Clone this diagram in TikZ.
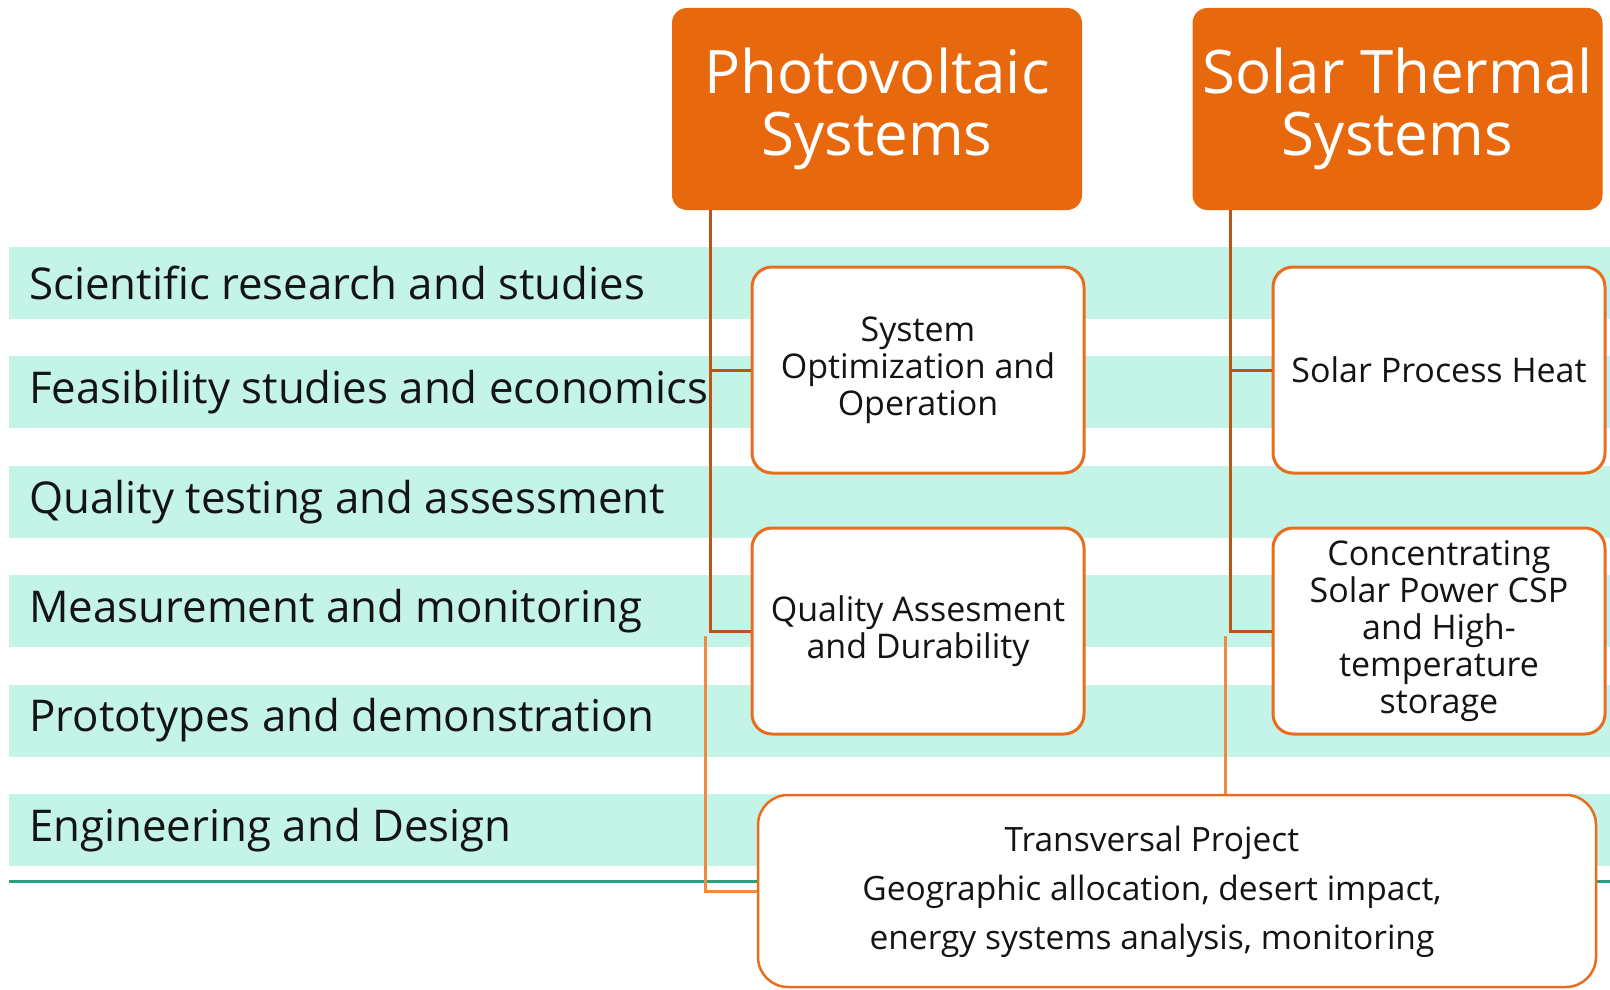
\documentclass[tikz,border=0pt]{standalone}
\usepackage{fontspec}
\setmainfont{Open Sans}
\definecolor{hdr}{RGB}{232,104,14}
\definecolor{stripe}{RGB}{196,244,232}
\definecolor{gline}{RGB}{40,160,125}
\definecolor{dkline}{RGB}{185,85,25}
\definecolor{ltline}{RGB}{240,138,64}
\definecolor{bxline}{RGB}{232,110,30}
\definecolor{txt}{RGB}{20,20,20}
\tikzset{
  header/.style={fill=hdr, rounded corners=15pt, minimum width=410pt, minimum height=202pt,
    text=white, align=center, inner sep=0pt, font=\fontsize{60}{62}\selectfont},
  topicbox/.style={draw=bxline, line width=3pt, fill=white, rounded corners=20pt,
    minimum width=332pt, minimum height=206pt, inner sep=0pt, align=center, text=txt,
    font=\fontsize{34}{37}\selectfont},
  transbox/.style={draw=bxline, line width=2.5pt, fill=white, rounded corners=30pt,
    minimum width=838pt, minimum height=192pt, inner sep=0pt, text=txt,
    font=\fontsize{33.5}{49}\selectfont},
  rowlabel/.style={anchor=west, inner sep=0pt, text=txt, font=\fontsize{43.8}{46}\selectfont},
  stripebar/.style={fill=stripe, draw=none},
  dkconn/.style={draw=dkline, line width=3pt},
  ltconn/.style={draw=ltline, line width=3pt}
}
\begin{document}
\begin{tikzpicture}[x=1pt,y=-1pt]
\useasboundingbox (0,0) rectangle (1610,990);
% stripes
\foreach \t in {247,356.4,465.8,575.2,684.6,794}{
  \fill[stripebar] (9,\t) rectangle (1610,\t+72);
}
\draw[gline, line width=3pt] (9,881) -- (1610,881);
% row labels
\node[rowlabel] (r1) at (29,283) {Scientific research and studies};
\node[rowlabel] (r2) at (29,392.4) {Feasibility studies and economics};
\node[rowlabel] (r3) at (29,501.8) {Quality testing and assessment};
\node[rowlabel] (r4) at (29,611.2) {Measurement and monitoring};
\node[rowlabel] (r5) at (29,720.6) {Prototypes and demonstration};
\node[rowlabel] (r6) at (29,830) {Engineering and Design};
% headers
\node[header] (pv) at (877,109) {Photovoltaic\\Systems};
\node[header] (st) at (1397.5,109) {Solar Thermal\\Systems};
% topic boxes
\node[topicbox] (so) at (918,370) {System\\Optimization and\\Operation};
\node[topicbox] (qa) at (918,631) {Quality Assesment\\and Durability};
\node[topicbox] (sph) at (1439,370) {Solar Process Heat};
\node[topicbox] (csp) at (1439,631) {Concentrating\\Solar Power CSP\\and High-\\temperature\\storage};
\node[transbox] (tp) at (1177,891) {\begin{tabular}{@{}c@{}}Transversal Project\\Geographic allocation, desert impact,\\energy systems analysis, monitoring\end{tabular}\hspace*{50pt}};
% connectors
\coordinate (pvtop) at (710,210);
\coordinate (sttop) at (1230,210);
\draw[dkconn] (pvtop) |- (qa.west);
\draw[dkconn] (pvtop |- so.west) -- (so.west);
\draw[dkconn] (sttop) |- (csp.west);
\draw[dkconn] (sttop |- sph.west) -- (sph.west);
\coordinate (tl) at (705,636);
\coordinate (tr) at (1225,636);
\draw[ltconn] (tl) |- (tp.west);
\draw[ltconn] (tr) -- (tr |- tp.north);
\end{tikzpicture}
\end{document}
